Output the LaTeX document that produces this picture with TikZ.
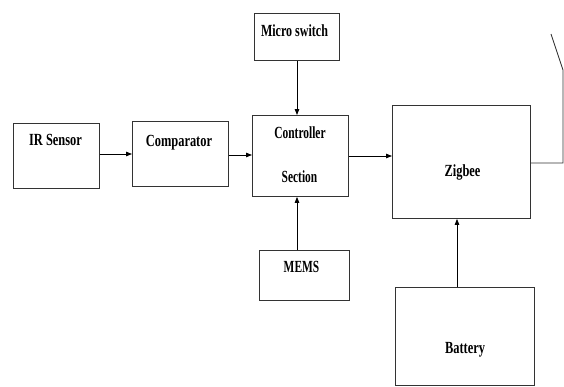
\documentclass[tikz,border=0pt]{standalone}
\usepackage{fontspec}
\setmainfont{Liberation Serif}
\usetikzlibrary{arrows.meta}
\begin{document}
\begin{tikzpicture}[x=1pt,y=-1pt,
  box/.style={draw=black!80, line width=0.9pt, inner sep=0pt, anchor=north west},
  lbl/.style={font=\fontsize{17}{19}\selectfont\bfseries, inner sep=0pt, anchor=base, xscale=0.73},
  lbln/.style={lbl, xscale=0.92},
  arr/.style={line width=0.8pt, -{Triangle[length=6pt,width=4.5pt]}},
  wire/.style={line width=0.9pt, draw=black!80}]
\useasboundingbox (0,0) rectangle (564,386);
% boxes
\node[box, minimum width=86pt, minimum height=65pt] (ir) at (13,123) {};
\node[box, minimum width=96pt, minimum height=65pt] (cmp) at (132,121) {};
\node[box, minimum width=96pt, minimum height=81pt] (ctl) at (252,115) {};
\node[box, minimum width=85pt, minimum height=47pt] (ms) at (254,13) {};
\node[box, minimum width=90pt, minimum height=50pt] (mems) at (259,250) {};
\node[box, minimum width=138pt, minimum height=113pt] (zb) at (392,105) {};
\node[box, minimum width=139pt, minimum height=98pt] (bat) at (395,287) {};
% labels
\node[lbl] (tir) at (55.5,145) {IR Sensor};
\node[lbl] (tcmp) at (179,146) {Comparator};
\node[lbl, xscale=0.92] (tctl1) at (300,138) {Controller};
\node[lbl, xscale=0.92] (tctl2) at (299.5,182) {Section};
\node[lbl, xscale=0.97] (tms) at (294.5,36) {Micro switch};
\node[lbl, xscale=0.92] (tmems) at (301.5,272) {MEMS};
\node[lbl] (tzb) at (462.5,176) {Zigbee};
\node[lbl] (tbat) at (465,353) {Battery};
% arrows
\draw[arr] (ir.east |- 0,154) -- (cmp.west |- 0,154);
\draw[arr] (cmp.east |- 0,155) -- (ctl.west |- 0,155);
\draw[arr] (ctl.east |- 0,156) -- (zb.west |- 0,156);
\draw[arr] (ms.south -| 297,0) -- (ctl.north -| 297,0);
\draw[arr] (mems.north -| 297,0) -- (ctl.south -| 297,0);
\draw[arr] (bat.north -| 457,0) -- (zb.south -| 457,0);
% antenna
\coordinate (a1) at (563,163);
\coordinate (a2) at (563,70);
\coordinate (a3) at (551,34);
\draw[wire] (zb.east |- a1) -- (a1) -- (a2) -- (a3);
\end{tikzpicture}
\end{document}
